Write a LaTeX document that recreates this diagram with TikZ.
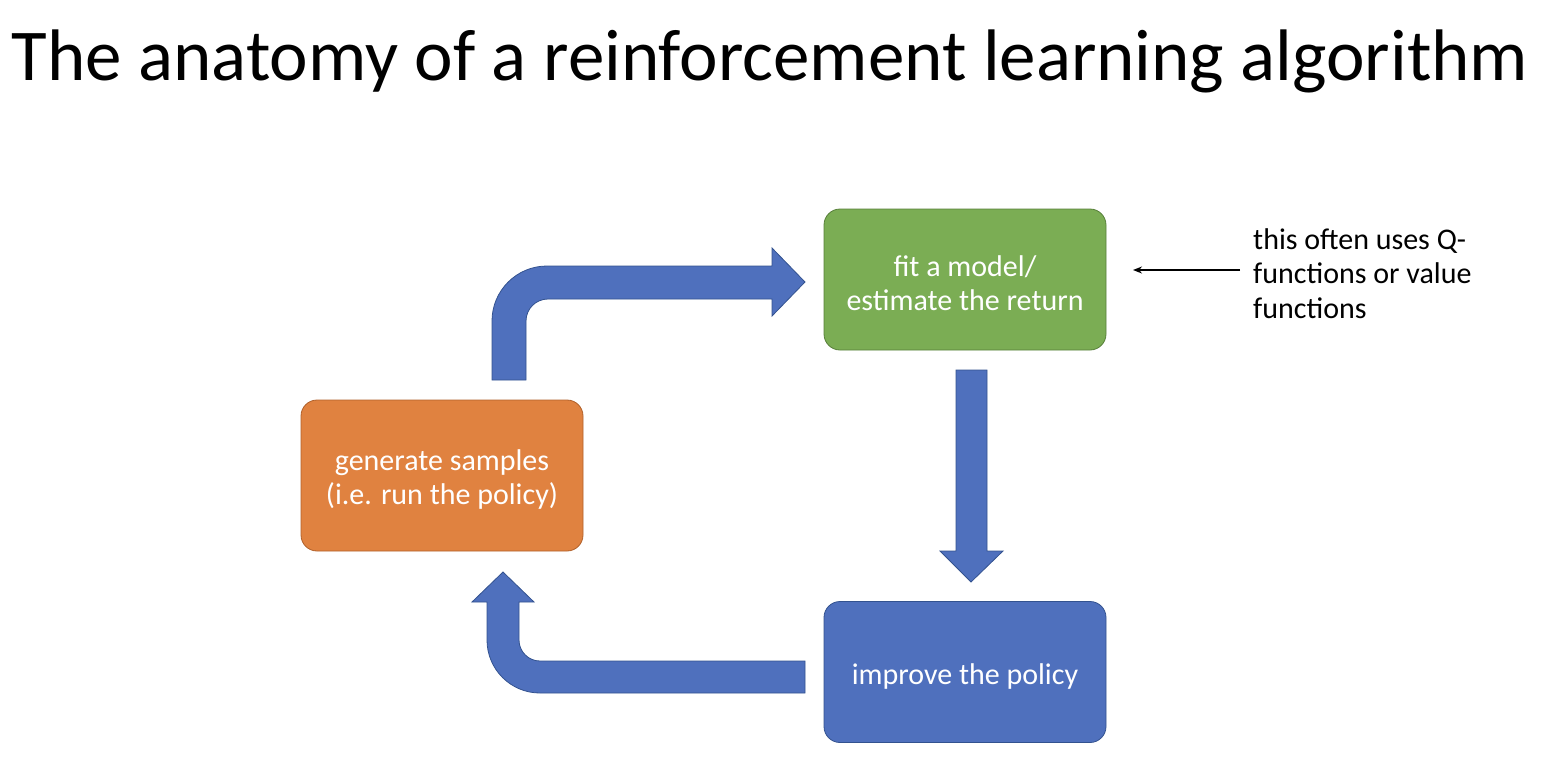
\documentclass[tikz,border=0pt]{standalone}
\usepackage{fontspec}
\usetikzlibrary{arrows.meta}
\setmainfont{Carlito}
\definecolor{boxgreen}{HTML}{7BAD54}
\definecolor{boxgreenline}{HTML}{577F3A}
\definecolor{boxorange}{HTML}{E08240}
\definecolor{boxorangeline}{HTML}{B0602A}
\definecolor{boxblue}{HTML}{4F70BD}
\definecolor{boxblueline}{HTML}{33528F}
\begin{document}
\begin{tikzpicture}[x=1pt,y=-1pt,
  stagebox/.style={rounded corners=16pt, minimum width=282pt, minimum height=141pt,
    line width=0.8pt},
  stagetext/.style={text=white, align=center, inner sep=0pt, font=\fontsize{30}{34}\selectfont},
  blockarrow/.style={fill=boxblue, draw=boxblueline, line width=0.8pt, line join=miter},
  note/.style={align=left, font=\fontsize{30}{34.5}\selectfont, inner sep=0pt}]
\useasboundingbox (0,0) rectangle (1552,756);

% title
\node[anchor=base, font=\fontsize{73}{90}\selectfont, inner sep=0pt] (title) at (770,80)
  {The anatomy of a reinforcement learning algorithm};

% the three stages
\node[stagebox, fill=boxgreen, draw=boxgreenline] (fit) at (965,279.5) {};
\node[stagetext] (fittext) at ([yshift=-3.5pt]fit.center) {fit a model/\\estimate the return};
\node[stagebox, fill=boxorange, draw=boxorangeline, minimum height=151pt] (gen) at (442,475.5) {};
\node[stagetext] (gentext) at ([yshift=-4pt]gen.center) {generate samples\\(i.e. run the policy)};
\node[stagebox, fill=boxblue, draw=boxblueline] (imp) at (965,672) {};
\node[stagetext] (imptext) at ([yshift=-4pt]imp.center) {improve the policy};

% block arrows of the loop
\path[blockarrow] (492,380) -- (492,321)
  .. controls (492,290.6) and (516.6,266) .. (547,266)
  -- (772,266) -- (772,248) -- (805,282) -- (772,316) -- (772,299) -- (548,299)
  .. controls (535.85,299) and (526,308.85) .. (526,321)
  -- (526,380) -- cycle;
\path[blockarrow] (956,370) -- (987,370) -- (987,551) -- (1003,551) -- (971,582)
  -- (940,551) -- (956,551) -- cycle;
\path[blockarrow] (805,661) -- (540,661)
  .. controls (528.4,661) and (519,651.6) .. (519,640)
  -- (519,602) -- (534,602) -- (503,572) -- (472,602) -- (487,602) -- (487,640)
  .. controls (487,669.3) and (510.7,693) .. (540,693)
  -- (805,693) -- cycle;

% side note
\node[note, anchor=north west] (remark) at (1253,228)
  {this often uses Q-\\functions or value\\functions};
\coordinate (remarktail) at (1240,270);
\coordinate (remarktip) at (1133,270);
\draw[-{Stealth[length=9pt,width=7pt]}, line width=1.4pt] (remarktail) -- (remarktip);
\end{tikzpicture}
\end{document}
